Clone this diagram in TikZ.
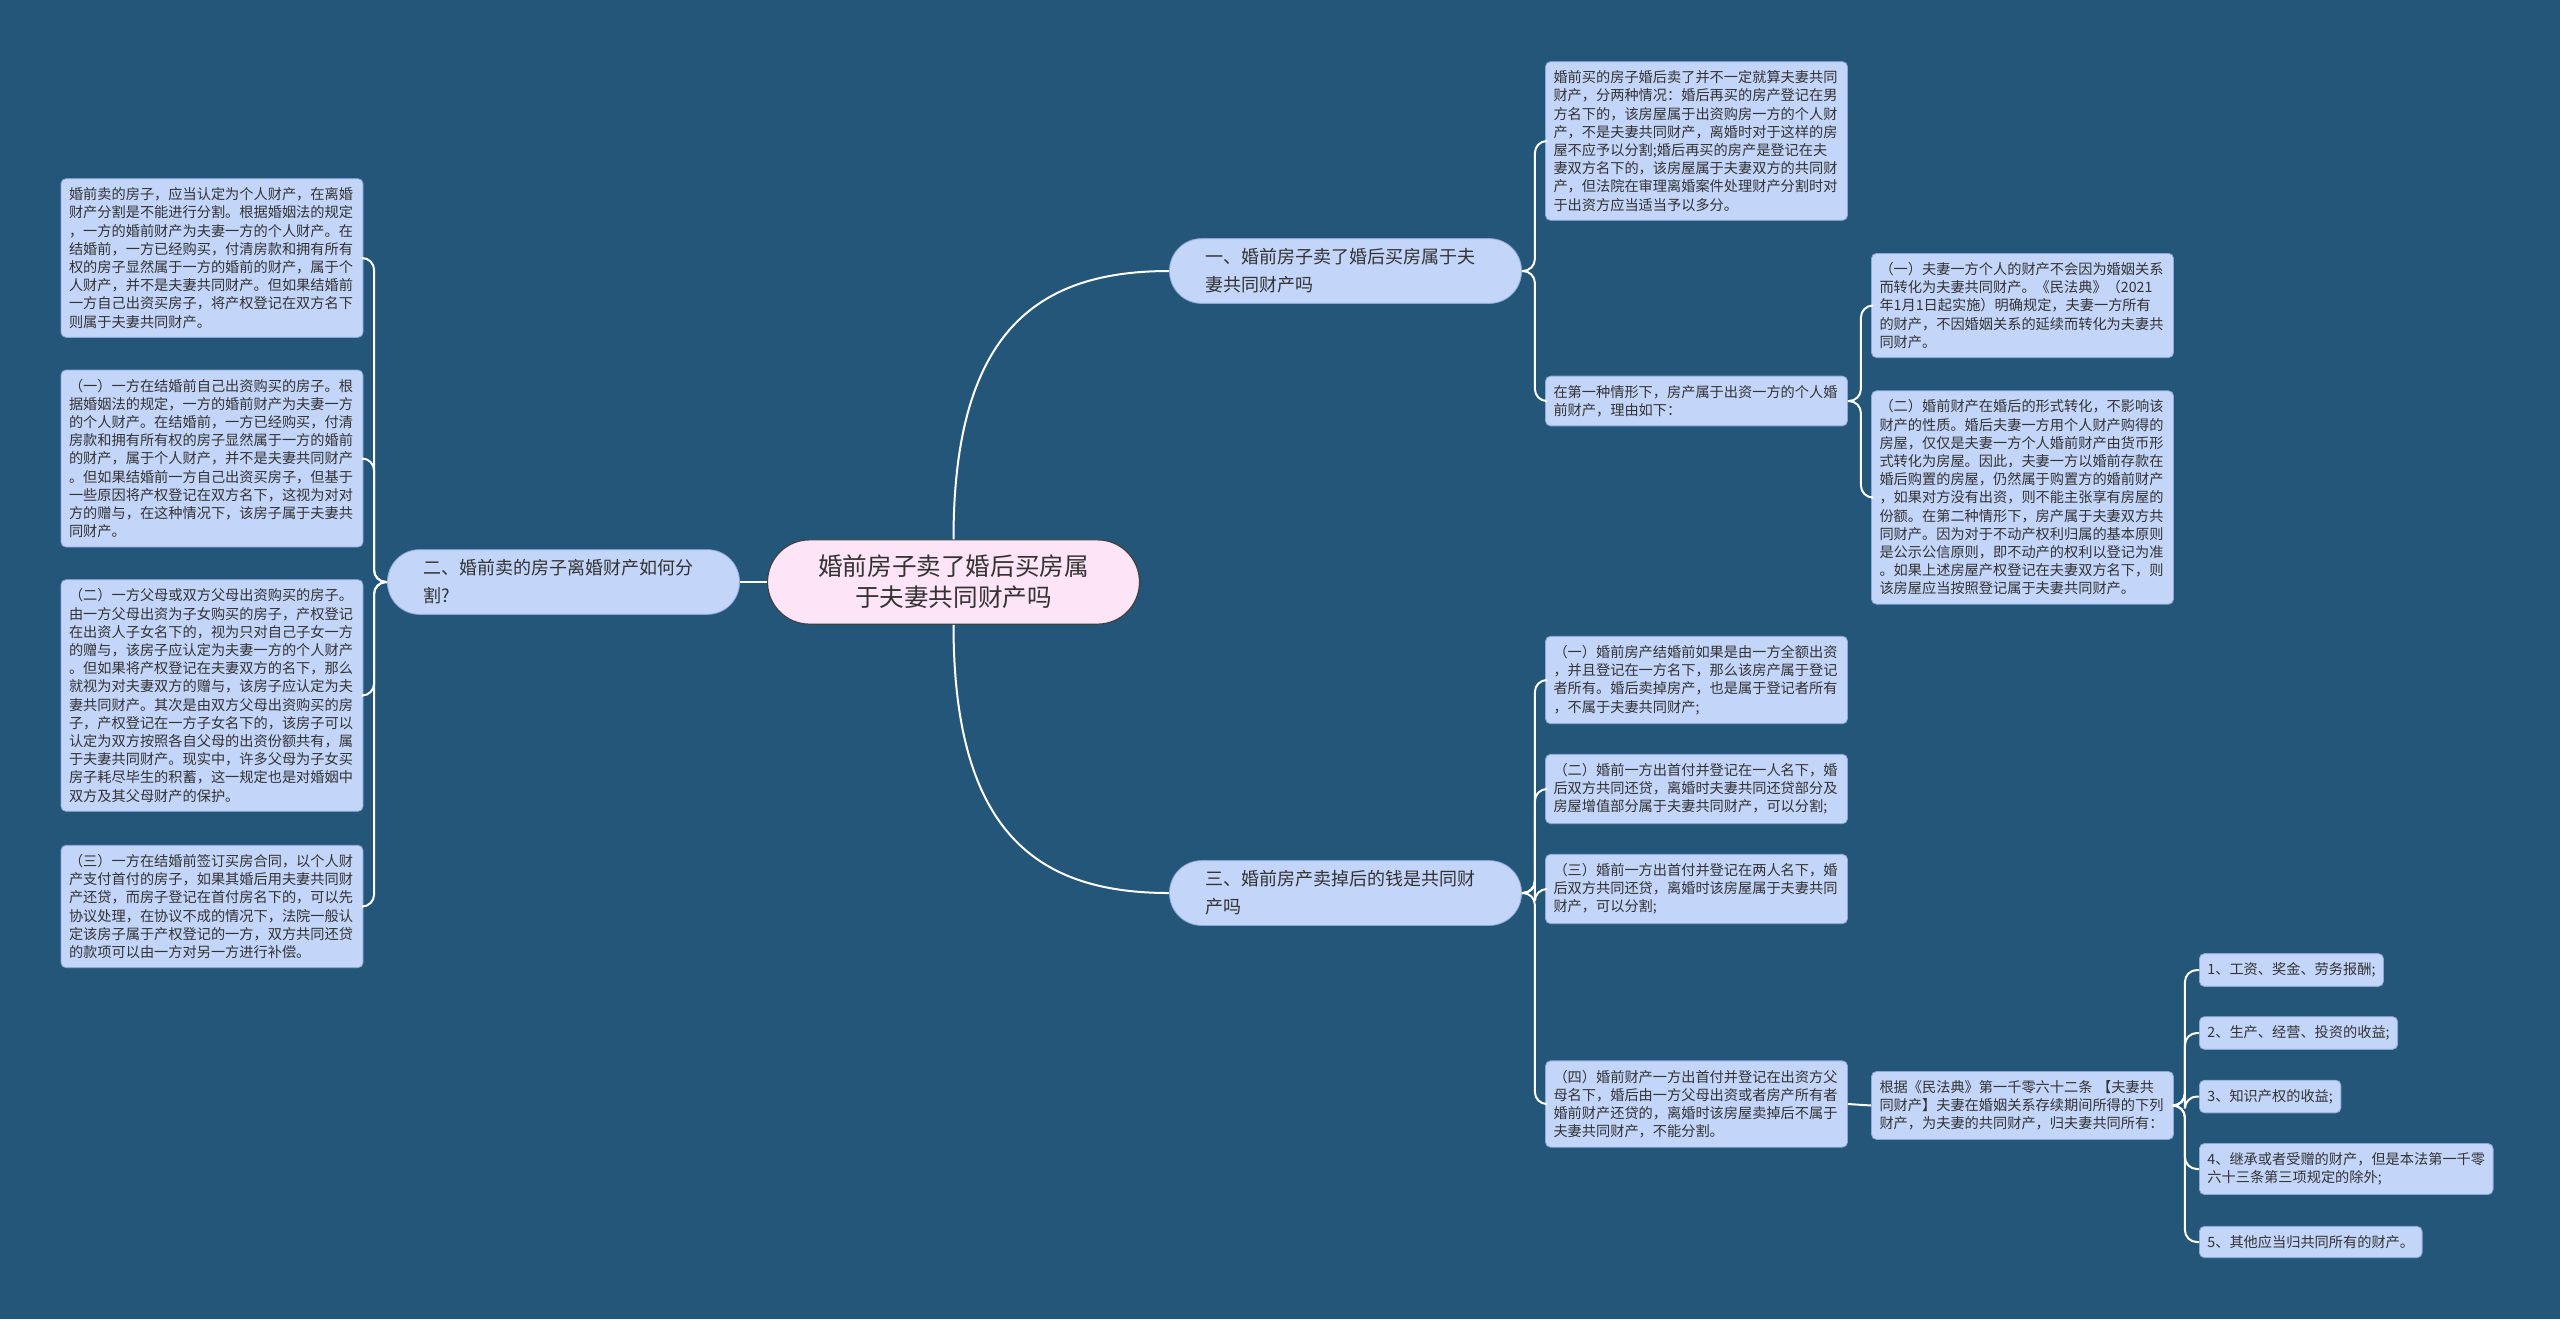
\documentclass[tikz,border=0pt]{standalone}
\usepackage{fontspec}
\setmainfont{Noto Sans CJK SC}
\usepackage{tikz}
\usetikzlibrary{positioning, calc}

\definecolor{bgblue}{HTML}{245679}
\definecolor{leafblue}{HTML}{C3D5F9}
\definecolor{leafline}{HTML}{8EA8D4}
\definecolor{rootpink}{HTML}{FDE4F6}
\definecolor{inkgray}{HTML}{333333}

\begin{document}
\begin{tikzpicture}
	[   x=0.5pt, y=-0.5pt,
		box/.style={draw=leafline,line width=0.4pt,fill=leafblue,rounded corners=2.5pt,text=inkgray,align=left,inner xsep=4pt,inner ysep=4.5pt,font=\fontsize{7.1}{9.1}\selectfont},
		leaf/.style={box,text width=143pt},
		branch/.style={draw=leafline,line width=0.4pt,fill=leafblue,rounded corners=16pt,text=inkgray,align=left,text width=140pt,inner xsep=18pt,inner ysep=5pt,font=\fontsize{9}{14}\selectfont},
		root/.style={draw=black!75,line width=0.6pt,fill=rootpink,rounded corners=21pt,text=inkgray,align=center,text width=136pt,inner xsep=25pt,inner ysep=7.6pt,font=\fontsize{12.3}{15.5}\selectfont},
	]
	\tikzset{link/.style={draw=white,line width=1pt,rounded corners=6pt}}
	\fill[bgblue] (0,0) rectangle (2560,1319);
	
	\node[root] (ctr) at (953.5,582) {婚前房子卖了婚后买房属\\于夫妻共同财产吗};
	
	\node[branch] (b1) at (1345.5,271) {一、婚前房子卖了婚后买房属于夫\\妻共同财产吗};
	\node[branch] (b2) at (563.5,582) {二、婚前卖的房子离婚财产如何分\\割?};
	\node[branch] (b3) at (1345.5,893) {三、婚前房产卖掉后的钱是共同财\\产吗};
	
	% branch one
	\node[leaf] (a1) at (1696.5,141) {婚前买的房子婚后卖了并不一定就算夫妻共同\\财产，分两种情况：婚后再买的房产登记在男\\方名下的，该房屋属于出资购房一方的个人财\\产，不是夫妻共同财产，离婚时对于这样的房\\屋不应予以分割;婚后再买的房产是登记在夫\\妻双方名下的，该房屋属于夫妻双方的共同财\\产，但法院在审理离婚案件处理财产分割时对\\于出资方应当适当予以多分。};
	\node[leaf] (a2) at (1696.5,401) {在第一种情形下，房产属于出资一方的个人婚\\前财产，理由如下：};
	\node[leaf] (a21) at (2022.5,305.5) {（一）夫妻一方个人的财产不会因为婚姻关系\\而转化为夫妻共同财产。《民法典》（2021\\年1月1日起实施）明确规定，夫妻一方所有\\的财产，不因婚姻关系的延续而转化为夫妻共\\同财产。};
	\node[leaf] (a22) at (2022.5,497.5) {（二）婚前财产在婚后的形式转化，不影响该\\财产的性质。婚后夫妻一方用个人财产购得的\\房屋，仅仅是夫妻一方个人婚前财产由货币形\\式转化为房屋。因此，夫妻一方以婚前存款在\\婚后购置的房屋，仍然属于购置方的婚前财产\\，如果对方没有出资，则不能主张享有房屋的\\份额。在第二种情形下，房产属于夫妻双方共\\同财产。因为对于不动产权利归属的基本原则\\是公示公信原则，即不动产的权利以登记为准\\。如果上述房屋产权登记在夫妻双方名下，则\\该房屋应当按照登记属于夫妻共同财产。};
	
	% branch two
	\node[leaf] (l1) at (212,258) {婚前卖的房子，应当认定为个人财产，在离婚\\财产分割是不能进行分割。根据婚姻法的规定\\，一方的婚前财产为夫妻一方的个人财产。在\\结婚前，一方已经购买，付清房款和拥有所有\\权的房子显然属于一方的婚前的财产，属于个\\人财产，并不是夫妻共同财产。但如果结婚前\\一方自己出资买房子，将产权登记在双方名下\\则属于夫妻共同财产。};
	\node[leaf] (l2) at (212,458.5) {（一）一方在结婚前自己出资购买的房子。根\\据婚姻法的规定，一方的婚前财产为夫妻一方\\的个人财产。在结婚前，一方已经购买，付清\\房款和拥有所有权的房子显然属于一方的婚前\\的财产，属于个人财产，并不是夫妻共同财产\\。但如果结婚前一方自己出资买房子，但基于\\一些原因将产权登记在双方名下，这视为对对\\方的赠与，在这种情况下，该房子属于夫妻共\\同财产。};
	\node[leaf] (l3) at (212,695.5) {（二）一方父母或双方父母出资购买的房子。\\由一方父母出资为子女购买的房子，产权登记\\在出资人子女名下的，视为只对自己子女一方\\的赠与，该房子应认定为夫妻一方的个人财产\\。但如果将产权登记在夫妻双方的名下，那么\\就视为对夫妻双方的赠与，该房子应认定为夫\\妻共同财产。其次是由双方父母出资购买的房\\子，产权登记在一方子女名下的，该房子可以\\认定为双方按照各自父母的出资份额共有，属\\于夫妻共同财产。现实中，许多父母为子女买\\房子耗尽毕生的积蓄，这一规定也是对婚姻中\\双方及其父母财产的保护。};
	\node[leaf] (l4) at (212,906.5) {（三）一方在结婚前签订买房合同，以个人财\\产支付首付的房子，如果其婚后用夫妻共同财\\产还贷，而房子登记在首付房名下的，可以先\\协议处理，在协议不成的情况下，法院一般认\\定该房子属于产权登记的一方，双方共同还贷\\的款项可以由一方对另一方进行补偿。};
	
	% branch three
	\node[leaf] (c1) at (1696.5,680) {（一）婚前房产结婚前如果是由一方全额出资\\，并且登记在一方名下，那么该房产属于登记\\者所有。婚后卖掉房产，也是属于登记者所有\\，不属于夫妻共同财产;};
	\node[leaf] (c2) at (1696.5,789) {（二）婚前一方出首付并登记在一人名下，婚\\后双方共同还贷，离婚时夫妻共同还贷部分及\\房屋增值部分属于夫妻共同财产，可以分割;};
	\node[leaf] (c3) at (1696.5,889) {（三）婚前一方出首付并登记在两人名下，婚\\后双方共同还贷，离婚时该房屋属于夫妻共同\\财产，可以分割;};
	\node[leaf] (c4) at (1696.5,1104) {（四）婚前财产一方出首付并登记在出资方父\\母名下，婚后由一方父母出资或者房产所有者\\婚前财产还贷的，离婚时该房屋卖掉后不属于\\夫妻共同财产，不能分割。};
	\node[leaf] (c41) at (2022.5,1105.5) {根据《民法典》第一千零六十二条 【夫妻共\\同财产】夫妻在婚姻关系存续期间所得的下列\\财产，为夫妻的共同财产，归夫妻共同所有：};
	
	\node[box,anchor=west] (i-1) at (2199,970) {1、工资、奖金、劳务报酬;};
	\node[box,anchor=west] (i-2) at (2199,1033) {2、生产、经营、投资的收益;};
	\node[box,anchor=west] (i-3) at (2199,1096.5) {3、知识产权的收益;};
	\node[box,anchor=west] (i-4) at (2199,1169) {4、继承或者受赠的财产，但是本法第一千零\\六十三条第三项规定的除外;};
	\node[box,anchor=west] (i-5) at (2199,1242) {5、其他应当归共同所有的财产。};
	
	% connectors
	\draw[link] (ctr.north) .. controls ($(ctr.north)+(0,-210)$) and ($(b1.west)+(-130,0)$) .. (b1.west);
	\draw[link] (ctr.south) .. controls ($(ctr.south)+(0,210)$) and ($(b3.west)+(-130,0)$) .. (b3.west);
	\draw[link] (ctr.west) -- (b2.east);
	
	\foreach \c in {a1,a2}
		\draw[link] (b1.east) -- ++(13,0) |- (\c.west);
	\foreach \c in {a21,a22}
		\draw[link] (a2.east) -- ++(13,0) |- (\c.west);
	\foreach \c in {l1,l2,l3,l4}
		\draw[link] (b2.west) -- ++(-13,0) |- (\c.east);
	\foreach \c in {c1,c2,c3,c4}
		\draw[link] (b3.east) -- ++(13,0) |- (\c.west);
	\draw[link] (c4.east) -- (c41.west);
	\foreach \x in {1,...,5}
		\draw[link] (c41.east) -- ++(11,0) |- (i-\x.west);
	
\end{tikzpicture}
\end{document}
